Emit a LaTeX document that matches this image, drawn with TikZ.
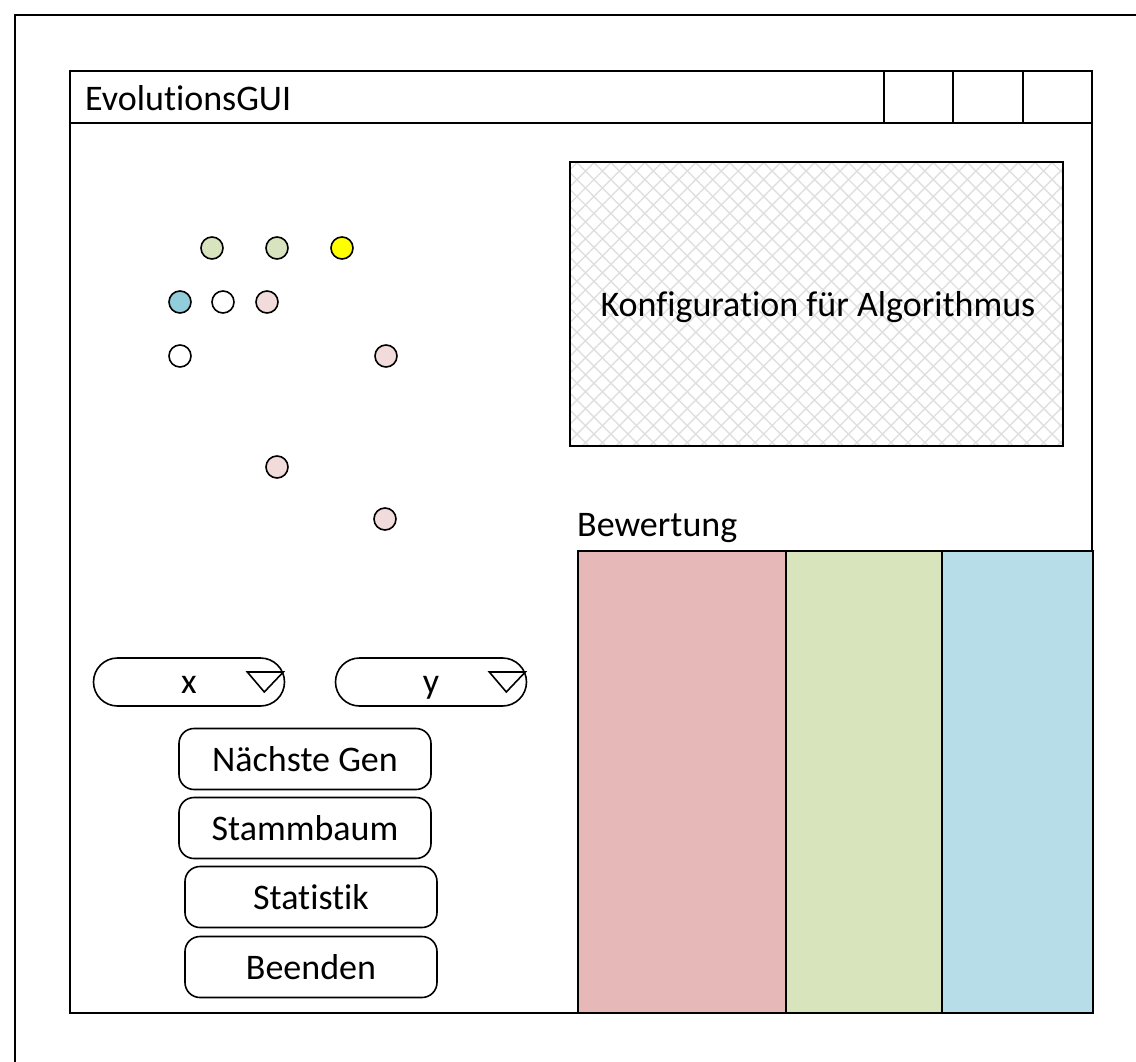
\documentclass[tikz,border=0pt]{standalone}
\usepackage{fontspec}
\setmainfont{Carlito}[Ligatures=NoCommon]
\usetikzlibrary{patterns.meta}

\definecolor{dotgreen}{HTML}{D7E4BD}
\definecolor{dotblue}{HTML}{92CDDC}
\definecolor{dotpink}{HTML}{F2DCDB}
\definecolor{dotyellow}{HTML}{FFFF00}
\definecolor{barred}{HTML}{E6B8B7}
\definecolor{bargreen}{HTML}{D8E4BC}
\definecolor{barblue}{HTML}{B7DEE8}

\tikzset{
  frame/.style={draw=black, line width=1.6pt},
  uitext/.style={font=\fontsize{36}{43}\selectfont, inner sep=0pt},
  button/.style={frame, rounded corners=15pt, inner sep=0pt,
    minimum width=252pt, minimum height=61pt, font=\fontsize{36}{43}\selectfont},
  dropdown/.style={frame, rounded corners=24pt, inner sep=0pt,
    minimum width=191pt, minimum height=48pt, font=\fontsize{36}{43}\selectfont,
    text height=22pt, text depth=0pt},
  dot/.style={circle, draw=black, line width=1.6pt, inner sep=0pt, minimum size=22pt},
  bar/.style={draw=black, line width=1.6pt},
}

\begin{document}
\begin{tikzpicture}[x=1pt, y=-1pt]
  \useasboundingbox (0,0) rectangle (1136,1062);

  % outer sheet edge
  \draw[frame] (15,1062) -- (15,15) -- (1136,15);

  % application window with title bar
  \draw[frame] (70,71) rectangle (1092,1013);
  \draw[frame] (70,123) -- (1092,123);
  \draw[frame] (884,71) -- (884,123);
  \draw[frame] (953,71) -- (953,123);
  \draw[frame] (1023,71) -- (1023,123);
  \node[uitext, anchor=west] (title) at (85,98) {EvolutionsGUI};

  % configuration area
  \fill[pattern={Lines[angle=45, distance=12pt, line width=1.4pt]}, pattern color=gray!25]
    (570,162) rectangle (1063,446);
  \fill[pattern={Lines[angle=-45, distance=12pt, line width=1.4pt]}, pattern color=gray!25]
    (570,162) rectangle (1063,446);
  \draw[frame] (570,162) rectangle (1063,446);
  \node[uitext] (config) at (818,307) {Konfiguration für Algorithmus};

  % population plot
  \node[dot, fill=dotgreen]  (p1)  at (212,248) {};
  \node[dot, fill=dotgreen]  (p2)  at (277,248) {};
  \node[dot, fill=dotyellow] (p3)  at (342,248) {};
  \node[dot, fill=dotblue]   (p4)  at (180,302) {};
  \node[dot, fill=white]     (p5)  at (223,302) {};
  \node[dot, fill=dotpink]   (p6)  at (267,302) {};
  \node[dot, fill=white]     (p7)  at (180,356) {};
  \node[dot, fill=dotpink]   (p8)  at (386,356) {};
  \node[dot, fill=dotpink]   (p9)  at (277,467) {};
  \node[dot, fill=dotpink]   (p10) at (385,519) {};

  % rating bars
  \node[uitext, anchor=base west] (rating) at (577,536) {Bewertung};
  \draw[bar, fill=barred]   (578,551) rectangle (786,1013);
  \draw[bar, fill=bargreen] (786,551) rectangle (942,1013);
  \draw[bar, fill=barblue]  (942,551) rectangle (1093,1013);

  % axis selectors
  \node[dropdown] (xsel) at (189,682) {x};
  \draw[frame, line join=miter] ([xshift=-38pt,yshift=10pt]xsel.east) -- ([xshift=-21pt,yshift=-10pt]xsel.east)
    -- ([xshift=-2pt,yshift=10pt]xsel.east) -- cycle;
  \node[dropdown] (ysel) at (431,682) {y};
  \draw[frame, line join=miter] ([xshift=-38pt,yshift=10pt]ysel.east) -- ([xshift=-21pt,yshift=-10pt]ysel.east)
    -- ([xshift=-2pt,yshift=10pt]ysel.east) -- cycle;

  % control buttons
  \node[button] (next)  at (305,759) {Nächste Gen};
  \node[button] (tree)  at (305,828) {Stammbaum};
  \node[button] (stats) at (311,897) {Statistik};
  \node[button] (quit)  at (311,967) {Beenden};
\end{tikzpicture}
\end{document}
